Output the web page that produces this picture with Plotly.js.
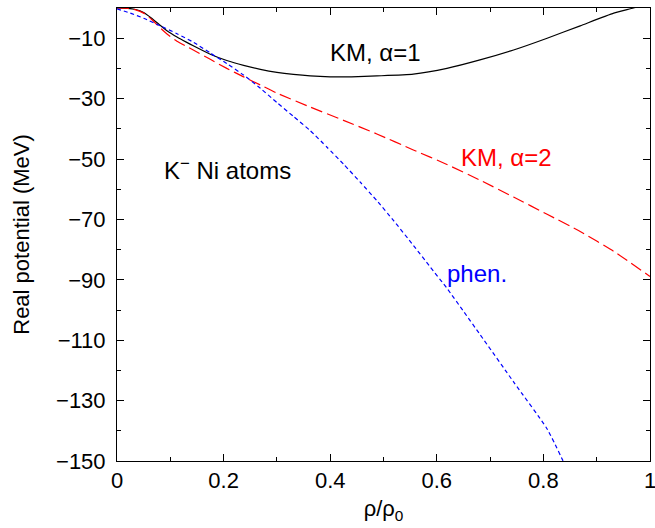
<!DOCTYPE html>
<html>
<head>
<meta charset="utf-8">
<script src="https://cdn.plot.ly/plotly-3.0.1.min.js"></script>
<style>html,body{margin:0;padding:0;background:#fff;}#chart{width:655px;height:528px;}</style>
</head>
<body>
<div id="chart"></div>
<script>
// KM, alpha=1 (black solid)
const rhoKM1 = [0, 0.02, 0.035, 0.05, 0.065, 0.08, 0.095, 0.1125, 0.13, 0.144, 0.175, 0.206, 0.2375, 0.269, 0.30, 0.331, 0.3625, 0.40, 0.44, 0.4875, 0.556, 0.619, 0.681, 0.744, 0.807, 0.869, 0.932, 0.969, 1.0];
const vKM1   = [0, -0.1, -0.5, -1.5, -3.4, -5.6, -7.7, -9.6, -11.3, -12.6, -15.3, -17.4, -19.0, -20.3, -21.3, -22.0, -22.5, -22.8, -22.8, -22.5, -21.9, -20.0, -17.2, -13.9, -10.0, -5.9, -1.7, 0, 1.6];
// KM, alpha=2 (red dashed)
const rhoKM2 = [0, 0.02, 0.035, 0.05, 0.065, 0.08, 0.095, 0.1125, 0.13, 0.144, 0.175, 0.206, 0.2375, 0.269, 0.30, 0.3625, 0.425, 0.4875, 0.556, 0.619, 0.681, 0.744, 0.807, 0.869, 0.932, 1.0];
const vKM2   = [0, -0.1, -0.6, -1.7, -3.8, -6.4, -8.8, -11.0, -12.7, -14.0, -17.0, -20.0, -22.8, -25.5, -28.2, -32.8, -37.2, -41.7, -47.0, -51.8, -57.0, -62.6, -68.3, -74.0, -80.6, -88.9];
// phenomenological (blue short dash)
const rhoPhen = [0, 0.025, 0.05, 0.081, 0.1125, 0.144, 0.175, 0.206, 0.2375, 0.269, 0.30, 0.331, 0.3625, 0.394, 0.425, 0.456, 0.4875, 0.519, 0.556, 0.587, 0.619, 0.65, 0.681, 0.744, 0.807, 0.845];
const vPhen   = [-0.3, -1.7, -3.4, -5.9, -8.5, -11.4, -14.9, -18.4, -22.2, -26.6, -31.3, -35.9, -40.6, -46.1, -51.7, -57.6, -63.8, -70.4, -78.6, -85.6, -92.8, -100.4, -108.1, -123.8, -139.4, -153.0];

const yTickVals = [-10, -30, -50, -70, -90, -110, -130, -150];
const yMinorVals = [-20, -40, -60, -80, -100, -120, -140];
const xTickVals = [0, 0.2, 0.4, 0.6, 0.8, 1];
const xTickText = ['0', '0.2', '0.4', '0.6', '0.8', '1'];

const font = 'Liberation Sans, Arial, Helvetica, sans-serif';

const traces = [
  {x: rhoKM1, y: vKM1, mode: 'lines', line: {color: '#000000', width: 1.2, shape: 'spline', smoothing: 0.5}, name: 'KM, α=1'},
  {x: rhoKM2, y: vKM2, mode: 'lines', line: {color: '#ff0000', width: 1.2, dash: '12px,5px', shape: 'spline', smoothing: 0.5}, name: 'KM, α=2'},
  {x: rhoPhen, y: vPhen, mode: 'lines', line: {color: '#0000ff', width: 1.2, dash: '4px,3px', shape: 'spline', smoothing: 0.5}, name: 'phen.'}
];

const axisCommon = {
  showgrid: false, zeroline: false, showline: true, linecolor: '#000', linewidth: 1,
  mirror: 'allticks', ticks: 'inside', ticklen: 7, tickwidth: 1, tickcolor: '#000',
  ticklabeloverflow: 'allow',
  tickfont: {family: font, size: 22, color: '#000'}
};

const layout = {
  width: 655, height: 528,
  margin: {l: 117, r: 5, t: 8, b: 67},
  paper_bgcolor: '#fff', plot_bgcolor: '#fff',
  showlegend: false,
  font: {family: font, color: '#000'},
  xaxis: Object.assign({}, axisCommon, {
    range: [0, 1], tickmode: 'array', tickvals: xTickVals, ticktext: xTickText,
    minor: {dtick: 0.1, ticks: 'inside', ticklen: 4, tickcolor: '#000', showgrid: false},
    title: {text: 'ρ/ρ<sub>0</sub>', font: {family: font, size: 22, color: '#000'}, standoff: 8}
  }),
  yaxis: Object.assign({}, axisCommon, {
    range: [-150, 0], tickmode: 'array', tickvals: yTickVals,
    minor: {tickvals: yMinorVals, ticks: 'inside', ticklen: 4, tickcolor: '#000', showgrid: false},
    ticklabelstandoff: 6,
    title: {text: 'Real potential (MeV)', font: {family: font, size: 22, color: '#000'}, standoff: 20}
  }),
  annotations: [
    {x: 0.485, y: -14.6, xref: 'x', yref: 'y', text: 'KM, α=1', showarrow: false, font: {family: font, size: 24, color: '#000'}},
    {x: 0.731, y: -49.6, xref: 'x', yref: 'y', text: 'KM, α=2', showarrow: false, font: {family: font, size: 24, color: '#ff0000'}},
    {x: 0.676, y: -87.9, xref: 'x', yref: 'y', text: 'phen.', showarrow: false, font: {family: font, size: 24, color: '#0000ff'}},
    {x: 0.207, y: -53.3, xref: 'x', yref: 'y', text: 'K<sup>−</sup> Ni atoms', showarrow: false, font: {family: font, size: 24, color: '#000'}}
  ]
};

Plotly.newPlot('chart', traces, layout, {staticPlot: true, displayModeBar: false});
</script>
</body>
</html>
